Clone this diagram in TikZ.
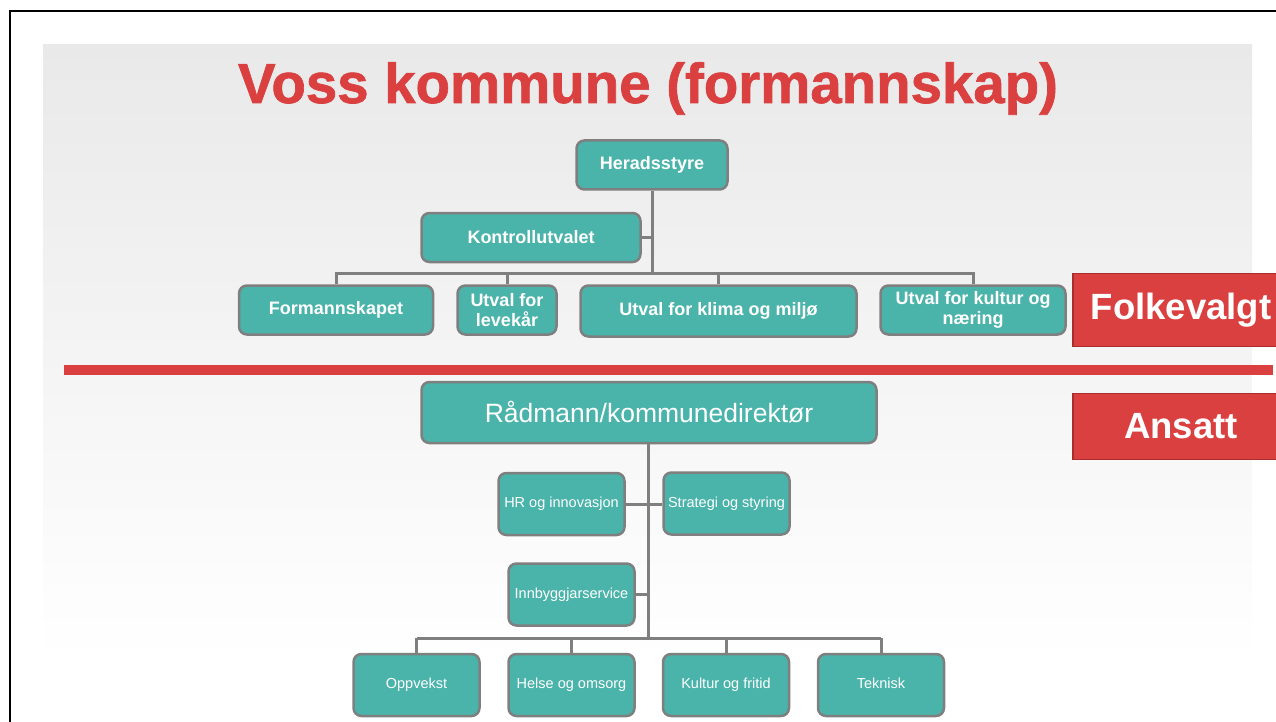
\documentclass[tikz,border=0pt]{standalone}
\usepackage{fontspec}
\setmainfont{Liberation Sans}
\newfontfamily\heavyfont[FakeBold=1.2]{Liberation Sans Bold}
\definecolor{boxteal}{RGB}{74, 179, 170}
\definecolor{boxline}{RGB}{127, 127, 127}
\definecolor{vossred}{RGB}{219, 64, 64}
\definecolor{tagline}{RGB}{170, 45, 45}
\definecolor{bgtop}{RGB}{233, 233, 233}
\usetikzlibrary{calc}
\tikzset{
    unit/.style={draw=boxline, line width=2.5pt, fill=boxteal, text=white,
        rounded corners=8pt, align=center, inner sep=2pt},
    polbox/.style={unit, font=\bfseries\fontsize{18}{20}\selectfont},
    admbox/.style={unit, font=\fontsize{14.5}{16}\selectfont,
        text height=10.5pt, text depth=3pt,
        minimum width=126pt, minimum height=62pt},
    tagbox/.style={draw=tagline, line width=1.5pt, fill=vossred, text=white,
        font=\bfseries\fontsize{36.5}{40}\selectfont, minimum width=216pt},
    link/.style={draw=boxline, line width=3pt},
}

\begin{document}
\begin{tikzpicture}[x=1pt, y=-1pt]
    \useasboundingbox (0, 0) rectangle (1276, 722);
    \draw[line width=2pt] (10, 722) -- (10, 11) -- (1276, 11);
    \shade[top color=bgtop, bottom color=white] (43, 45) rectangle (1252, 660);
    \node[anchor=base, text=vossred, font=\heavyfont\fontsize{56.4}{60}\selectfont]
        (title) at (648, 103) {Voss kommune (formannskap)};

    % folkevalt
    \node[polbox, minimum width=151pt, minimum height=49pt] (herad) at (652, 165) {Heradsstyre};
    \node[polbox, minimum width=219pt, minimum height=49pt] (kontroll) at (531, 237.5) {Kontrollutvalet};
    \node[polbox, minimum width=194pt, minimum height=49pt] (forman) at (336, 310) {Formannskapet};
    \node[polbox, minimum width=99pt, minimum height=49pt] (levekar) at (507, 310) {Utval for\\levekår};
    \node[polbox, minimum width=276pt, minimum height=51pt] (klima) at (718.5, 311) {Utval for klima og miljø};
    \node[polbox, minimum width=185pt, minimum height=49pt] (kultur) at (973, 310) {Utval for kultur og\\næring};
    \coordinate (bus1) at (652, 273);
    \draw[link] (herad) -- (bus1);
    \draw[link] (kontroll.east) -- (kontroll.east -| bus1);
    \draw[link] (forman.north) |- (bus1) -| (kultur.north);
    \foreach \n in {levekar, klima}
        \draw[link] (\n.north) -- (\n.north |- bus1);

    \node[tagbox, minimum height=73pt] (folk) at (1181, 310) {Folkevalgt};
    \draw[vossred, line width=10pt] (64, 370) -- (1273, 370);
    \node[tagbox, minimum height=66pt] (ansatt) at (1181, 426.5) {Ansatt};

    % administrasjon
    \node[unit, font=\fontsize{26.5}{28}\selectfont, minimum width=455pt, minimum height=61pt]
        (radmann) at (649, 412.5) {Rådmann/kommunedirektør};
    \node[admbox] (hr) at (561.5, 504) {HR og innovasjon};
    \node[admbox] (strategi) at (726.5, 503.5) {Strategi og styring};
    \node[admbox] (innb) at (571.5, 594.5) {Innbyggjarservice};
    \coordinate (bus2) at (648, 638);
    \draw[link] (radmann.south -| bus2) -- (bus2);
    \draw[link] (hr.east) -- (hr.east -| strategi.west);
    \draw[link] (innb.east) -- (innb.east -| bus2);
    \foreach \x/\n/\txt in {416.5/oppvekst/Oppvekst, 571.5/helse/Helse og omsorg,
                           726/kultfri/Kultur og fritid, 881/teknisk/Teknisk} {
        \node[admbox] (\n) at (\x, 685) {\txt};
        \draw[link] (\n.north) -- (\n.north |- bus2);
    }
    \draw[link] (oppvekst.north |- bus2) -- (teknisk.north |- bus2);
\end{tikzpicture}
\end{document}
